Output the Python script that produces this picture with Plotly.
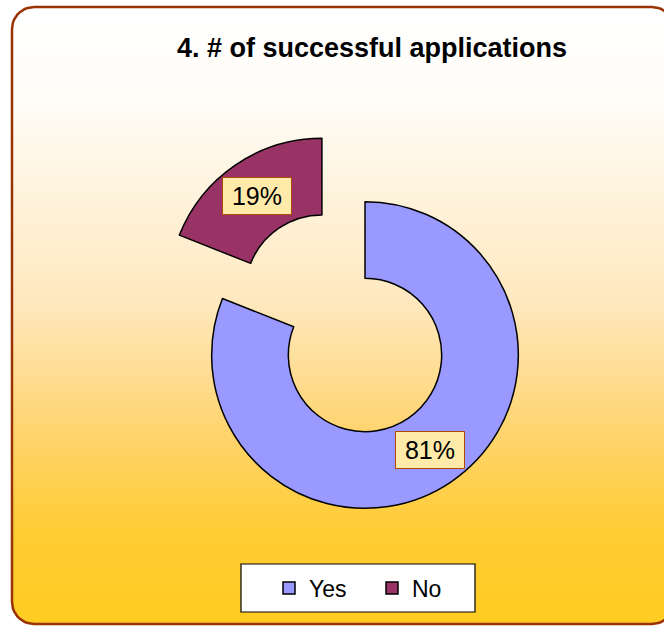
import numpy as np
import plotly.graph_objects as go

W, H = 664, 627

labels = ["Yes", "No"]
values = [81, 19]
colors = ["#9999FF", "#993366"]
pulls = [0, 0.5]
pct_text = ["81%", "19%"]
title = "4. # of successful applications"

FONT = "Liberation Sans, Arial, sans-serif"

# pie box in pixels (centre + half size)
cx, cy, half = 365, 355, 230
hole = 0.5


def rounded_rect(x0, y0, x1, y1, r, n=12):
    xs, ys = [], []
    corners = [(x1 - r, y1 - r, 0), (x0 + r, y1 - r, 90), (x0 + r, y0 + r, 180), (x1 - r, y0 + r, 270)]
    for ccx, ccy, a0 in corners:
        for t in np.linspace(a0, a0 + 90, n):
            xs.append(ccx + r * np.cos(np.radians(t)))
            ys.append(ccy + r * np.sin(np.radians(t)))
    xs.append(xs[0])
    ys.append(ys[0])
    return xs, ys


fig = go.Figure()

# chart area background with gradient + brown frame
bx, by = rounded_rect(12, H - 624, 674, H - 7, 22)
fig.add_trace(go.Scatter(
    x=bx, y=by, mode="lines", fill="toself",
    line=dict(color="#993300", width=2.5),
    fillgradient=dict(type="vertical", colorscale=[
        [0, "#FFCC22"], [0.15, "#FFCC33"], [0.31, "#FFD46E"],
        [0.52, "#FFE8BE"], [0.85, "#FFFDF8"], [1, "#FFFFFF"]]),
    hoverinfo="skip", showlegend=False))

fig.add_trace(go.Pie(
    labels=labels, values=values, hole=hole, pull=pulls,
    sort=False, direction="clockwise", rotation=0,
    marker=dict(colors=colors, line=dict(color="black", width=1.5)),
    textinfo="none", hoverinfo="label+percent",
    domain=dict(x=[(cx - half) / W, (cx + half) / W],
                y=[1 - (cy + half) / H, 1 - (cy - half) / H])))

# percentage boxes at slice mid points
r = half / (1 + max(pulls))
total = sum(values)
start = 0
for v, p, t in zip(values, pulls, pct_text):
    mid = np.radians((start + v / 2) / total * 360)
    start += v
    dist = p * r + r * (1 + hole) / 2
    px = cx + dist * np.sin(mid)
    py = cy - dist * np.cos(mid)
    fig.add_annotation(
        x=px / W, y=1 - py / H, xref="paper", yref="paper", text=t,
        xanchor="center", yanchor="middle", width=56, height=24,
        showarrow=False, font=dict(family=FONT, size=25, color="black"),
        bgcolor="#FFEAAA", bordercolor="#B04A00", borderwidth=1, borderpad=6)

# legend box
fig.add_shape(type="rect", xref="paper", yref="paper",
              x0=241 / W, x1=475 / W, y0=1 - 612 / H, y1=1 - 564 / H,
              fillcolor="white", line=dict(color="black", width=1.2), layer="above")

fig.update_layout(
    width=W, height=H,
    margin=dict(l=0, r=0, t=0, b=0),
    paper_bgcolor="white", plot_bgcolor="rgba(0,0,0,0)",
    xaxis=dict(range=[0, W], visible=False, domain=[0, 1], fixedrange=True),
    yaxis=dict(range=[0, H], visible=False, domain=[0, 1], fixedrange=True),
    title=dict(text="<b>" + title + "</b>", x=372 / W, xanchor="center",
               y=1 - 48 / H, yanchor="middle",
               font=dict(family=FONT, size=27, color="black")),
    showlegend=True,
    legend=dict(orientation="h", x=372 / W, xanchor="center",
                y=1 - 588 / H, yanchor="middle",
                bgcolor="rgba(0,0,0,0)", borderwidth=0,
                font=dict(family=FONT, size=23, color="black"),
                entrywidth=58, entrywidthmode="pixels"),
)

fig.write_html("out.html", config={"displayModeBar": False},
               post_script="document.body.style.margin='0';")
